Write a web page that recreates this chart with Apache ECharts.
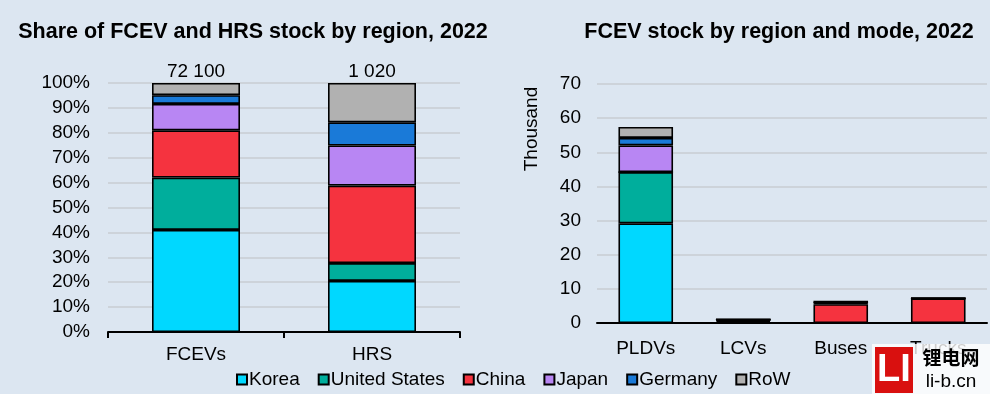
<!DOCTYPE html>
<html><head><meta charset="utf-8">
<script src="https://cdn.jsdelivr.net/npm/echarts@6/dist/echarts.min.js"></script>
<style>html,body{margin:0;padding:0;background:#dce6f1;}#c{width:990px;height:394px;}</style>
</head><body><div id="c"></div>
<script>
const regions = ['Korea','United States','China','Japan','Germany','RoW'];
const colors = ['#00d8ff','#00ae9c','#f5333f','#b886f3','#1a7ad8','#b1b1b1'];
const shareCats = ['FCEVs','HRS'];
const shareTotals = ['72 100','1 020'];
// share (%) per region: [FCEVs, HRS]
const shareKorea = [41, 20.5];
const shareUS = [21, 7.2];
const shareChina = [19, 31.1];
const shareJapan = [10.6, 16.1];
const shareGermany = [3.5, 9.3];
const shareRoW = [4.9, 15.8];
const modeCats = ['PLDVs','LCVs','Buses','Trucks'];
// thousand vehicles per region: [PLDVs, LCVs, Buses, Trucks]
const modeKorea = [29.2, 0.3, 0, 0];
const modeUS = [15.0, 0.3, 0, 0];
const modeChina = [0, 0.4, 5.5, 7.2];
const modeJapan = [7.8, 0, 0.4, 0];
const modeGermany = [2.2, 0, 0, 0];
const modeRoW = [3.2, 0, 0.6, 0];

const shareData = [shareKorea, shareUS, shareChina, shareJapan, shareGermany, shareRoW];
const modeData = [modeKorea, modeUS, modeChina, modeJapan, modeGermany, modeRoW];
const FONT = 'Liberation Sans, Arial, sans-serif';
const FS = 19;
const border = {borderColor:'#000', borderWidth:1.6};

const series = [];
regions.forEach((r,i)=>{
  const s = {name:r, type:'bar', stack:'share', xAxisIndex:0, yAxisIndex:0, barWidth:'50%',
    itemStyle:Object.assign({color:colors[i]}, border), data:shareData[i]};
  if (i === regions.length-1) {
    s.label = {show:true, position:'top', distance:2, color:'#000', fontSize:FS, fontFamily:FONT,
      formatter: p => shareTotals[p.dataIndex]};
  }
  series.push(s);
});
regions.forEach((r,i)=>{
  series.push({name:r, type:'bar', stack:'mode', xAxisIndex:1, yAxisIndex:1, barWidth:'56%',
    itemStyle:Object.assign({color:colors[i]}, border), data:modeData[i]});
});

const chart = echarts.init(document.getElementById('c'));
chart.setOption({
  backgroundColor:'#dce6f1',
  animation:false,
  textStyle:{fontFamily:FONT},
  title:[
    {text:'Share of FCEV and HRS stock by region, 2022', left:248, top:16, textAlign:'center',
     textStyle:{fontSize:21.5, fontWeight:'bold', color:'#000', fontFamily:FONT}},
    {text:'FCEV stock by region and mode, 2022', left:774, top:16, textAlign:'center',
     textStyle:{fontSize:21.5, fontWeight:'bold', color:'#000', fontFamily:FONT}}
  ],
  legend:{data:regions, left:231, top:365, icon:'rect', itemWidth:10, itemHeight:10, itemGap:18,
    textStyle:{fontSize:FS, color:'#000', fontFamily:FONT, padding:[0,0,0,-3]}},
  grid:[
    {left:108, top:83, width:352, height:249},
    {left:597, top:84, width:390, height:239}
  ],
  xAxis:[
    {type:'category', gridIndex:0, data:shareCats,
     axisLine:{lineStyle:{color:'#000', width:2}},
     axisTick:{show:true, length:6, lineStyle:{color:'#000', width:2}},
     axisLabel:{color:'#000', fontSize:FS, margin:13, fontFamily:FONT}},
    {type:'category', gridIndex:1, data:modeCats,
     axisLine:{lineStyle:{color:'#000', width:2}},
     axisTick:{show:false},
     axisLabel:{color:'#000', fontSize:FS, margin:16, fontFamily:FONT}}
  ],
  yAxis:[
    {type:'value', gridIndex:0, min:0, max:100, interval:10,
     axisLine:{show:false}, axisTick:{show:false},
     axisLabel:{color:'#000', fontSize:FS, margin:18, formatter:'{value}%', fontFamily:FONT},
     splitLine:{lineStyle:{color:'#c9cdd2', width:1.5}}},
    {type:'value', gridIndex:1, min:0, max:70, interval:10,
     axisLine:{show:false}, axisTick:{show:false},
     axisLabel:{color:'#000', fontSize:FS, margin:16, fontFamily:FONT},
     splitLine:{lineStyle:{color:'#c9cdd2', width:1.5}}}
  ],
  series:series,
  graphic:[
    {type:'text', x:532, y:129, rotation:Math.PI/2, z:10,
     style:{text:'Thousand', fontSize:FS, fill:'#000', fontFamily:FONT, textAlign:'center', textVerticalAlign:'middle'}},
    {type:'rect', shape:{x:872, y:344, width:118, height:50}, z:20, style:{fill:'rgba(255,255,255,0.8)'}},
    {type:'rect', shape:{x:875, y:347, width:38, height:46}, z:21, style:{fill:'#d9100f'}},
    {type:'text', x:894, y:371, z:22, style:{text:'LI', fontSize:38, fontWeight:'bold', fill:'#fff', fontFamily:FONT, textAlign:'center', textVerticalAlign:'middle'}},
    {type:'text', x:951, y:358, z:22, style:{text:'锂电网', fontSize:19, fontWeight:'bold', fill:'#000', fontFamily:'Noto Sans CJK SC', textAlign:'center', textVerticalAlign:'middle'}},
    {type:'text', x:951, y:382, z:22, style:{text:'li-b.cn', fontSize:19, fill:'#000', fontFamily:FONT, textAlign:'center', textVerticalAlign:'middle'}}
  ]
});
</script></body></html>
